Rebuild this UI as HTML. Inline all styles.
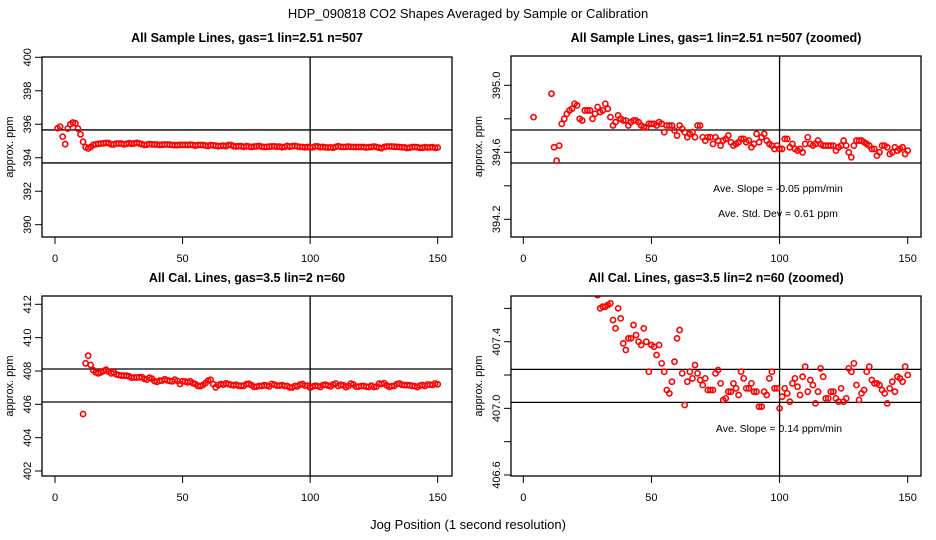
<!DOCTYPE html>
<html><head><meta charset="utf-8"><style>
html,body{margin:0;padding:0;background:#fff;width:936px;height:540px;overflow:hidden;}
svg{display:block;font-family:"Liberation Sans",sans-serif;}
</style></head><body>
<svg id="chart" width="936" height="540" viewBox="0 0 936 540">
<text x="468" y="18" text-anchor="middle" font-size="13">HDP_090818  CO2 Shapes Averaged by Sample or Calibration</text>
<text x="468" y="529" text-anchor="middle" font-size="13">Jog Position (1 second resolution)</text>
</svg>
<script>
const sampleValues = [395.76,395.86,395.26,394.81,395.74,396.00,396.10,396.06,395.74,395.40,
394.95,394.63,394.55,394.64,394.77,394.80,394.83,394.85,394.86,394.89,
394.88,394.80,394.79,394.85,394.85,394.85,394.80,394.83,394.87,394.84,
394.85,394.89,394.86,394.81,394.76,394.78,394.82,394.80,394.79,394.79,
394.76,394.78,394.79,394.79,394.78,394.76,394.75,394.75,394.77,394.77,
394.77,394.76,394.78,394.77,394.72,394.76,394.76,394.76,394.73,394.70,
394.76,394.74,394.72,394.69,394.71,394.72,394.69,394.76,394.76,394.69,
394.67,394.69,394.69,394.65,394.69,394.67,394.64,394.67,394.68,394.70,
394.66,394.64,394.65,394.66,394.68,394.68,394.66,394.67,394.63,394.65,
394.71,394.66,394.69,394.71,394.67,394.65,394.64,394.62,394.64,394.62,
394.62,394.68,394.68,394.63,394.65,394.62,394.61,394.62,394.60,394.65,
394.69,394.65,394.64,394.65,394.67,394.65,394.64,394.64,394.64,394.64,
394.64,394.61,394.63,394.64,394.67,394.64,394.60,394.57,394.64,394.67,
394.67,394.67,394.66,394.65,394.64,394.62,394.62,394.58,394.60,394.64,
394.64,394.63,394.59,394.60,394.63,394.61,394.62,394.63,394.59,394.61];
const calValues = [null,null,null,null,null,null,null,null,null,null,
405.42,408.46,408.92,408.36,408.04,407.92,407.86,407.92,408.00,408.08,
407.96,407.86,407.92,407.80,407.76,407.72,407.72,407.72,407.68,407.60,
407.61,407.61,407.62,407.63,407.53,407.48,407.60,407.54,407.39,407.35,
407.42,407.42,407.50,407.44,407.40,407.38,407.48,407.40,407.22,407.38,
407.37,407.32,407.38,407.27,407.22,407.11,407.09,407.16,407.28,407.42,
407.47,407.21,407.02,407.16,407.22,407.18,407.26,407.21,407.17,407.14,
407.18,407.11,407.11,407.11,407.21,407.23,407.15,407.05,407.06,407.10,
407.10,407.15,407.12,407.08,407.22,407.18,407.12,407.12,407.15,407.10,
407.10,407.01,407.01,407.10,407.08,407.18,407.22,407.12,407.12,407.00,
407.07,407.12,407.09,407.04,407.15,407.18,407.13,407.08,407.19,407.25,
407.10,407.17,407.14,407.03,407.10,407.24,407.19,407.06,407.06,407.10,
407.10,407.06,407.04,407.12,407.04,407.06,407.24,407.22,407.27,407.14,
407.05,407.09,407.11,407.22,407.25,407.17,407.15,407.15,407.14,407.11,
407.09,407.03,407.12,407.16,407.10,407.19,407.18,407.16,407.25,407.20];
const xTicks = [0,50,100,150];
const tlTicks = [390,392,394,396,398,400];
const trTicks = [394.2,394.4,394.6,394.8,395.0];
const trLabels = ["394.2","","394.6","","395.0"];
const blTicks = [402,404,406,408,410,412];
const brTicks = [406.6,406.8,407.0,407.2,407.4,407.6];
const brLabels = ["406.6","","407.0","","407.4",""];
const tlLines = [395.66,393.69];
const trLines = [394.733,394.536];
const blLines = [408.12,406.14];
const brLines = [407.234,407.036];
const vLineX = 100;

const NS="http://www.w3.org/2000/svg";
const svg=document.getElementById('chart');
function mk(tag,attrs,parent){const e=document.createElementNS(NS,tag);for(const k in attrs)e.setAttribute(k,attrs[k]);(parent||svg).appendChild(e);return e;}
function lin(d0,p0,d1,p1){return v=>p0+(v-d0)*(p1-p0)/(d1-d0);}

const panels=[
 {id:'tl',title:'All Sample Lines, gas=1 lin=2.51 n=507',box:[42,57,452,237],xs:lin(0,55,150,437.7),ys:lin(400,57.3,390,224.7),data:sampleValues,ticks:tlTicks,labels:tlTicks.map(String),lines:tlLines,ty:42,notes:[]},
 {id:'tr',title:'All Sample Lines, gas=1 lin=2.51 n=507 (zoomed)',box:[511,56,921,237],xs:lin(0,523.3,150,907.7),ys:lin(395.0,85.3,394.2,219.3),data:sampleValues,ticks:trTicks,labels:trLabels,lines:trLines,ty:42,notes:[['Ave. Slope =  -0.05  ppm/min',778,192],['Ave. Std. Dev  =  0.61  ppm',778,217]]},
 {id:'bl',title:'All Cal. Lines, gas=3.5 lin=2 n=60',box:[42,296,452,476],xs:lin(0,55,150,437.7),ys:lin(412,304.3,402,471),data:calValues,ticks:blTicks,labels:blTicks.map(String),lines:blLines,ty:282,notes:[]},
 {id:'br',title:'All Cal. Lines, gas=3.5 lin=2 n=60 (zoomed)',box:[511,296,921,476],xs:lin(0,523.3,150,907.7),ys:lin(407.4,341.7,406.6,475),data:calValues,ticks:brTicks,labels:brLabels,lines:brLines,ty:282,notes:[['Ave. Slope =  0.14  ppm/min',779,432]]}
];

panels.forEach(p=>{
 const g=mk('g',{});
 
 
 const [x0,y0,x1,y1]=p.box;
 const cx=(x0+x1)/2;
 const t=mk('text',{x:cx,y:p.ty,'text-anchor':'middle','font-size':'12.5','font-weight':'bold'},g);
 t.textContent=p.title;
 
 
 const clip=mk('clipPath',{id:'clip-'+p.id},g);
 mk('rect',{x:x0,y:y0,width:x1-x0,height:y1-y0},clip);
 const yl=mk('text',{x:0,y:0,'text-anchor':'middle','font-size':'11',transform:`translate(${x0-29},${(y0+y1)/2}) rotate(-90)`},g);
 yl.textContent='approx. ppm';
 
 
 xTicks.forEach(v=>{
  const px=p.xs(v);
  const tk=mk('line',{x1:px,x2:px,y1:y1,y2:y1+7,stroke:'#000','stroke-width':1},g);
  
  
  const lb=mk('text',{x:px,y:y1+25,'text-anchor':'middle','font-size':'11'},g);
  lb.textContent=String(v);
  
  
 });
 p.ticks.forEach((v,i)=>{
  const py=p.ys(v);
  const tk=mk('line',{x1:x0-7,x2:x0,y1:py,y2:py,stroke:'#000','stroke-width':1},g);
  
  
  if(p.labels[i]){
   const lb=mk('text',{x:0,y:0,'text-anchor':'middle','font-size':'11',transform:`translate(${x0-11},${py}) rotate(-90)`},g);
   lb.textContent=p.labels[i];
   
   
  }
 });
 p.lines.forEach(v=>{
  const py=p.ys(v);
  const l=mk('line',{x1:x0,x2:x1,y1:py,y2:py,stroke:'#000','stroke-width':1.3},g);
  
  
 });
 const vx=p.xs(vLineX);
 const vl=mk('line',{x1:vx,x2:vx,y1:y0,y2:y1,stroke:'#000','stroke-width':1.3},g);
 
 
 const pts=mk('g',{'clip-path':`url(#clip-${p.id})`},g);
 
 
 p.data.forEach((v,i)=>{
  if(v===null)return;
  const c=mk('circle',{cx:p.xs(i+1),cy:p.ys(v),r:2.6,fill:'none',stroke:'#ff0000','stroke-width':1.6},pts);
  
  
 });
 p.notes.forEach(n=>{
  const tx=mk('text',{x:n[1],y:n[2],'text-anchor':'middle','font-size':'10.5','fill':'#000'},g);
  tx.textContent=n[0];
  
  
 });
 const bx=mk('rect',{x:x0,y:y0,width:x1-x0,height:y1-y0,fill:'none',stroke:'#000','stroke-width':1.3},g);
 
 
});
</script>
</body></html>
